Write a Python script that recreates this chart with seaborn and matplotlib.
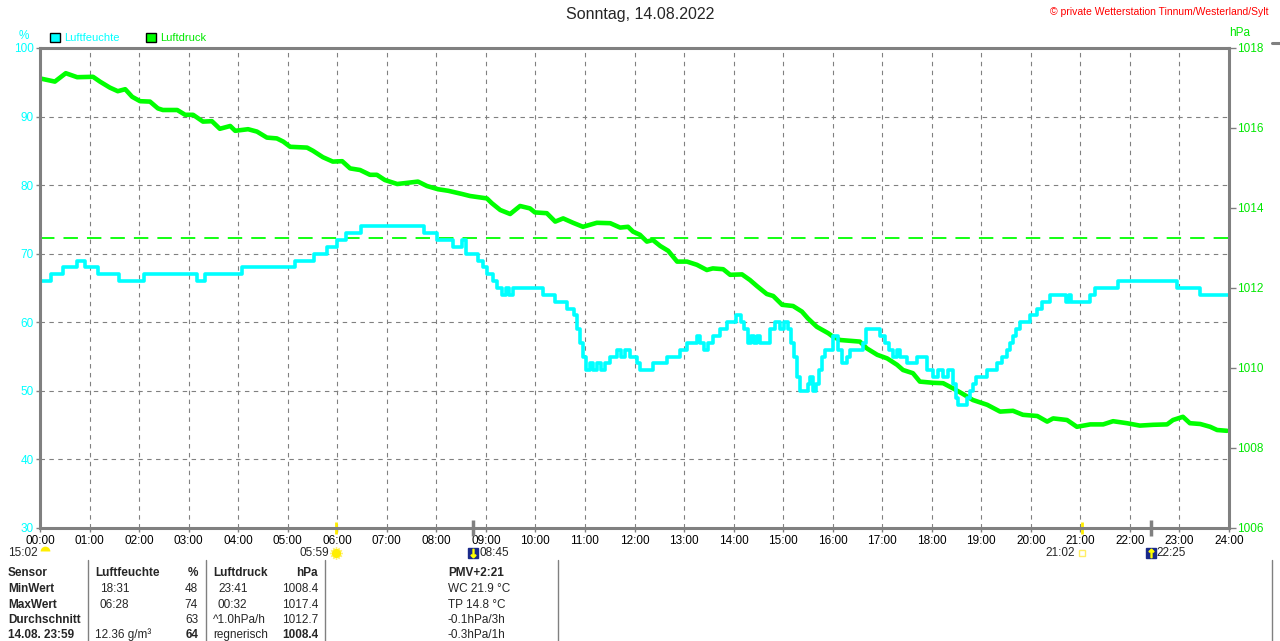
import matplotlib
matplotlib.use("Agg")
import matplotlib.pyplot as plt
import matplotlib.transforms as mtransforms
from matplotlib.lines import Line2D
from matplotlib.patches import Patch
import seaborn as sns

# Luftfeuchte (%), Stufenwerte, Zeit in Stunden
hum_hours = [0.00, 0.22, 0.47, 0.74, 0.91, 1.17, 1.59, 2.10, 3.16, 3.33, 4.08, 5.15, 5.53, 5.79,
             5.99, 6.18, 6.47, 7.75, 8.01, 8.34, 8.52, 8.60, 8.84, 8.94, 9.02, 9.14, 9.22, 9.33,
             9.41, 9.47, 9.55, 10.15, 10.40, 10.64, 10.78, 10.84, 10.90, 10.96, 11.02, 11.10,
             11.17, 11.24, 11.32, 11.40, 11.51, 11.65, 11.73, 11.81, 11.91, 12.05, 12.11, 12.37,
             12.66, 12.92, 13.06, 13.26, 13.32, 13.40, 13.48, 13.58, 13.73, 13.87, 14.05, 14.15,
             14.21, 14.29, 14.35, 14.41, 14.47, 14.53, 14.74, 14.84, 14.94, 15.02, 15.10, 15.16,
             15.22, 15.28, 15.34, 15.50, 15.54, 15.60, 15.66, 15.72, 15.79, 15.85, 16.01, 16.11,
             16.19, 16.29, 16.35, 16.61, 16.67, 16.96, 17.06, 17.14, 17.22, 17.30, 17.36, 17.50,
             17.70, 17.90, 18.03, 18.13, 18.23, 18.33, 18.43, 18.49, 18.53, 18.71, 18.77, 18.83,
             18.89, 19.12, 19.32, 19.42, 19.52, 19.58, 19.64, 19.70, 19.78, 19.98, 20.13, 20.23,
             20.39, 20.71, 20.77, 20.81, 21.20, 21.30, 21.76, 22.95, 23.42, 24.00]
hum_values = [66, 67, 68, 69, 68, 67, 66, 67, 66, 67, 68, 69, 70, 71,
              72, 73, 74, 73, 72, 71, 72, 70, 69, 68, 67, 66, 65, 64,
              65, 64, 65, 64, 63, 62, 61, 59, 57, 55, 53, 54,
              53, 54, 53, 54, 55, 56, 55, 56, 55, 54, 53, 54,
              55, 56, 57, 58, 57, 56, 57, 58, 59, 60, 61, 60,
              59, 57, 58, 57, 58, 57, 59, 60, 59, 60, 59, 57,
              55, 52, 50, 51, 52, 50, 51, 53, 55, 56, 58, 56,
              54, 55, 56, 57, 59, 58, 57, 56, 55, 56, 55, 54,
              55, 53, 52, 53, 52, 53, 51, 49, 48, 49, 50, 51,
              52, 53, 54, 55, 56, 57, 58, 59, 60, 61, 62, 63,
              64, 63, 64, 63, 64, 65, 66, 65, 64, 64]

# Luftdruck (hPa)
pres_hours = [0.00, 0.30, 0.52, 0.75, 1.07, 1.21, 1.41, 1.57, 1.72, 1.86, 2.02, 2.22, 2.38, 2.48,
              2.77, 2.93, 3.09, 3.29, 3.47, 3.63, 3.84, 3.94, 4.20, 4.38, 4.58, 4.78, 4.91, 5.05,
              5.39, 5.51, 5.71, 5.91, 6.10, 6.26, 6.46, 6.66, 6.80, 6.96, 7.21, 7.63, 7.81, 8.03,
              8.24, 8.52, 8.68, 9.02, 9.12, 9.29, 9.49, 9.69, 9.89, 9.99, 10.23, 10.40, 10.56,
              10.76, 10.96, 11.24, 11.51, 11.71, 11.87, 11.97, 12.11, 12.25, 12.37, 12.52, 12.68,
              12.86, 13.06, 13.26, 13.46, 13.58, 13.79, 13.93, 14.17, 14.33, 14.47, 14.67, 14.80,
              14.98, 15.20, 15.38, 15.50, 15.68, 15.91, 16.01, 16.15, 16.55, 16.69, 16.90, 17.10,
              17.30, 17.42, 17.62, 17.76, 18.03, 18.23, 18.43, 18.63, 18.83, 19.12, 19.38, 19.64,
              19.84, 20.13, 20.33, 20.45, 20.73, 20.93, 21.20, 21.46, 21.66, 21.94, 22.20, 22.47,
              22.75, 22.87, 23.07, 23.21, 23.42, 23.62, 23.76, 23.96]
pres_values = [1017.24, 1017.16, 1017.37, 1017.27, 1017.28, 1017.16, 1017.01, 1016.92, 1016.97,
               1016.78, 1016.67, 1016.66, 1016.49, 1016.45, 1016.45, 1016.33, 1016.33, 1016.16,
               1016.17, 1015.98, 1016.05, 1015.93, 1015.97, 1015.91, 1015.76, 1015.74, 1015.66,
               1015.53, 1015.51, 1015.43, 1015.27, 1015.16, 1015.17, 1014.99, 1014.95, 1014.83,
               1014.83, 1014.70, 1014.60, 1014.66, 1014.55, 1014.47, 1014.43, 1014.35, 1014.30,
               1014.24, 1014.12, 1013.95, 1013.85, 1014.05, 1013.99, 1013.89, 1013.87, 1013.66,
               1013.74, 1013.63, 1013.53, 1013.63, 1013.62, 1013.51, 1013.53, 1013.41, 1013.33,
               1013.16, 1013.20, 1013.05, 1012.93, 1012.66, 1012.66, 1012.58, 1012.45, 1012.49,
               1012.47, 1012.33, 1012.34, 1012.20, 1012.05, 1011.85, 1011.80, 1011.58, 1011.55,
               1011.41, 1011.24, 1011.03, 1010.87, 1010.78, 1010.70, 1010.66, 1010.49, 1010.33,
               1010.24, 1010.08, 1009.95, 1009.87, 1009.66, 1009.63, 1009.62, 1009.49, 1009.35,
               1009.20, 1009.08, 1008.91, 1008.93, 1008.83, 1008.80, 1008.66, 1008.74, 1008.70,
               1008.53, 1008.59, 1008.59, 1008.67, 1008.62, 1008.56, 1008.58, 1008.59, 1008.70,
               1008.78, 1008.62, 1008.60, 1008.53, 1008.45, 1008.43]
norm_pressure = 1013.25

hour_labels = ["%02d:00" % h for h in range(25)]
hum_ticks = [30, 40, 50, 60, 70, 80, 90, 100]
pres_ticks = [1006, 1008, 1010, 1012, 1014, 1016, 1018]

# Sonne / Mond
astro_labels = ["15:02", "05:59", "08:45", "21:02", "22:25"]
astro_hours = [0.10, 5.98, 8.75, 21.03, 22.42]

table_rows = [
    ["Sensor", "Luftfeuchte", "%", "Luftdruck", "hPa", "PMV+2:21"],
    ["MinWert", "18:31", "48", "23:41", "1008.4", "WC 21.9 °C"],
    ["MaxWert", "06:28", "74", "00:32", "1017.4", "TP 14.8 °C"],
    ["Durchschnitt", "", "63", "^1.0hPa/h", "1012.7", "-0.1hPa/3h"],
    ["14.08. 23:59", "12.36 g/m³", "64", "regnerisch", "1008.4", "-0.3hPa/1h"],
]

CYAN = "#00ffff"
GREEN = "#00ff00"
GTXT = "#00e800"
GRAY = "#808080"

sns.set_theme(style="white")
plt.rcParams['font.family'] = ['Liberation Sans', 'DejaVu Sans']

W, H = 1280, 641
fig = plt.figure(figsize=(12.8, 6.41), dpi=100)
fig.patch.set_facecolor("white")


def px(x, y):
    return x / W, 1 - y / H


ax = fig.add_axes([40 / W, 1 - 528 / H, 1189 / W, 480 / H])
ax.set_facecolor("white")
ax.set_xlim(0, 24)
ax.set_ylim(30, 100)
ax.set_xticks(range(25))
ax.set_xticklabels(hour_labels)
ax.set_yticks(hum_ticks)
ax.grid(True, color=GRAY, linestyle=(0, (4, 4)), linewidth=0.8)
for s in ax.spines.values():
    s.set_visible(False)
ax.tick_params(axis="x", colors=GRAY, labelcolor="black", labelsize=8.5, length=3, width=1,
               pad=2, bottom=True)
ax.tick_params(axis="y", colors=GRAY, labelcolor=CYAN, labelsize=8.5, length=3, width=1,
               pad=1.5, left=True)

# Luftdruck
ax2 = ax.twinx()
ax2.set_ylim(1006, 1018)
ax2.set_yticks(pres_ticks)
ax2.grid(False)
for s in ax2.spines.values():
    s.set_visible(False)
ax2.tick_params(axis="y", colors=GRAY, labelcolor=GTXT, labelsize=8.5, length=5, width=1,
                pad=1, right=True)
sns.lineplot(x=pres_hours, y=pres_values, ax=ax2, color=GREEN, linewidth=3.3, errorbar=None)
ax2.axhline(norm_pressure, color=GREEN, linewidth=1.3, dashes=(8, 5))

# Luftfeuchte oben
ax3 = ax.twinx()
ax3.set_ylim(30, 100)
ax3.grid(False)
ax3.yaxis.set_visible(False)
sns.lineplot(x=hum_hours, y=hum_values, ax=ax3, color=CYAN, linewidth=2.6,
             drawstyle="steps-post", errorbar=None)
for s in ax3.spines.values():
    s.set_color(GRAY)
    s.set_linewidth(2.2)
for a in (ax, ax2, ax3):
    a.set_xlabel("")
    a.set_ylabel("")
ax.set_xlim(0, 24)

# Einheiten, Legende, Titel
fig.text(*px(24, 36), "%", color=CYAN, fontsize=8.5, ha="center", va="center")
fig.text(*px(1240, 33), "hPa", color=GTXT, fontsize=8.5, ha="center", va="center")
handles = [Patch(facecolor=CYAN, edgecolor="black", linewidth=1),
           Patch(facecolor=GREEN, edgecolor="black", linewidth=1)]
fig.legend(handles, ["Luftfeuchte", "Luftdruck"], loc="center left",
           bbox_to_anchor=px(50, 38), ncol=2, frameon=False, fontsize=8,
           labelcolor=[CYAN, GTXT], handlelength=0.9, handleheight=0.9,
           handletextpad=0.35, columnspacing=2.4, borderpad=0, borderaxespad=0)
fig.text(*px(640, 15), "Sonntag, 14.08.2022", fontsize=11.5, ha="center", va="center")
fig.text(*px(1269, 12), "© private Wetterstation Tinnum/Westerland/Sylt", color="red",
         fontsize=7.5, ha="right", va="center")

# Sonnen- und Mondzeiten
trans = mtransforms.blended_transform_factory(ax.transData, ax.transAxes)
yrow = -25 / 480
for lab, t in zip(astro_labels, astro_hours):
    if lab in ("08:45", "22:25"):
        ax.plot([t, t], [-8 / 480, 8 / 480], transform=trans, color=GRAY, lw=2.5,
                clip_on=False, solid_capstyle="butt")
        ax.plot(t, yrow, transform=trans, marker="s", ms=6.5, color="#1a2a8a",
                clip_on=False)
        arrow = r"$\downarrow$" if lab == "08:45" else r"$\uparrow$"
        ax.plot(t, yrow, transform=trans, marker=arrow, ms=6, color="yellow",
                clip_on=False)
        ax.text(t + 0.12, yrow, lab, transform=trans, fontsize=8.5, ha="left", va="center")
    else:
        if lab in ("05:59", "21:02"):
            ax.plot([t, t], [-6 / 480, 6 / 480], transform=trans, color="#ffee00", lw=2,
                    clip_on=False, solid_capstyle="butt")
        if lab == "15:02":
            ax.plot(t, yrow + 0.004, transform=trans, marker="o", ms=7, fillstyle="top",
                    color="#ffee00", markerfacecoloralt="none", markeredgecolor="none",
                    clip_on=False)
        elif lab == "05:59":
            ax.plot(t, yrow, transform=trans, marker=(12, 2, 0), ms=9, color="#fff27a",
                    mew=1, clip_on=False)
            ax.plot(t, yrow, transform=trans, marker="o", ms=5.5, color="#ffee00",
                    clip_on=False)
        else:
            ax.plot(t, yrow, transform=trans, marker="s", ms=5, mfc="none",
                    mec="#ffee66", mew=1, clip_on=False)
        ax.text(t - 0.14, yrow, lab, transform=trans, fontsize=8.5, ha="right", va="center")

# Tabelle
row_y = [573, 589, 605, 620, 635]
col_x = [8, 95, 198, 213, 318, 448]
col_ha = ["left", "left", "right", "left", "right", "left"]
for r, (row, y) in enumerate(zip(table_rows, row_y)):
    for c, txt in enumerate(row):
        bold = r == 0 or c == 0 or (r == 4 and c in (2, 4))
        x = col_x[c]
        if r in (1, 2) and c in (1, 3):
            x += 5
        fig.text(*px(x, y), txt, fontsize=8.5, ha=col_ha[c], va="center",
                 fontweight="bold" if bold else "normal")
for x in (88, 206, 325, 558, 1272):
    fig.add_artist(Line2D([x / W, x / W], [1 - 560 / H, 0], color=GRAY, lw=1))
fig.add_artist(Line2D([1272 / W, 1.0], [1 - 43 / H, 1 - 43 / H], color=GRAY, lw=2.2))

fig.savefig("out.png", dpi=100)
